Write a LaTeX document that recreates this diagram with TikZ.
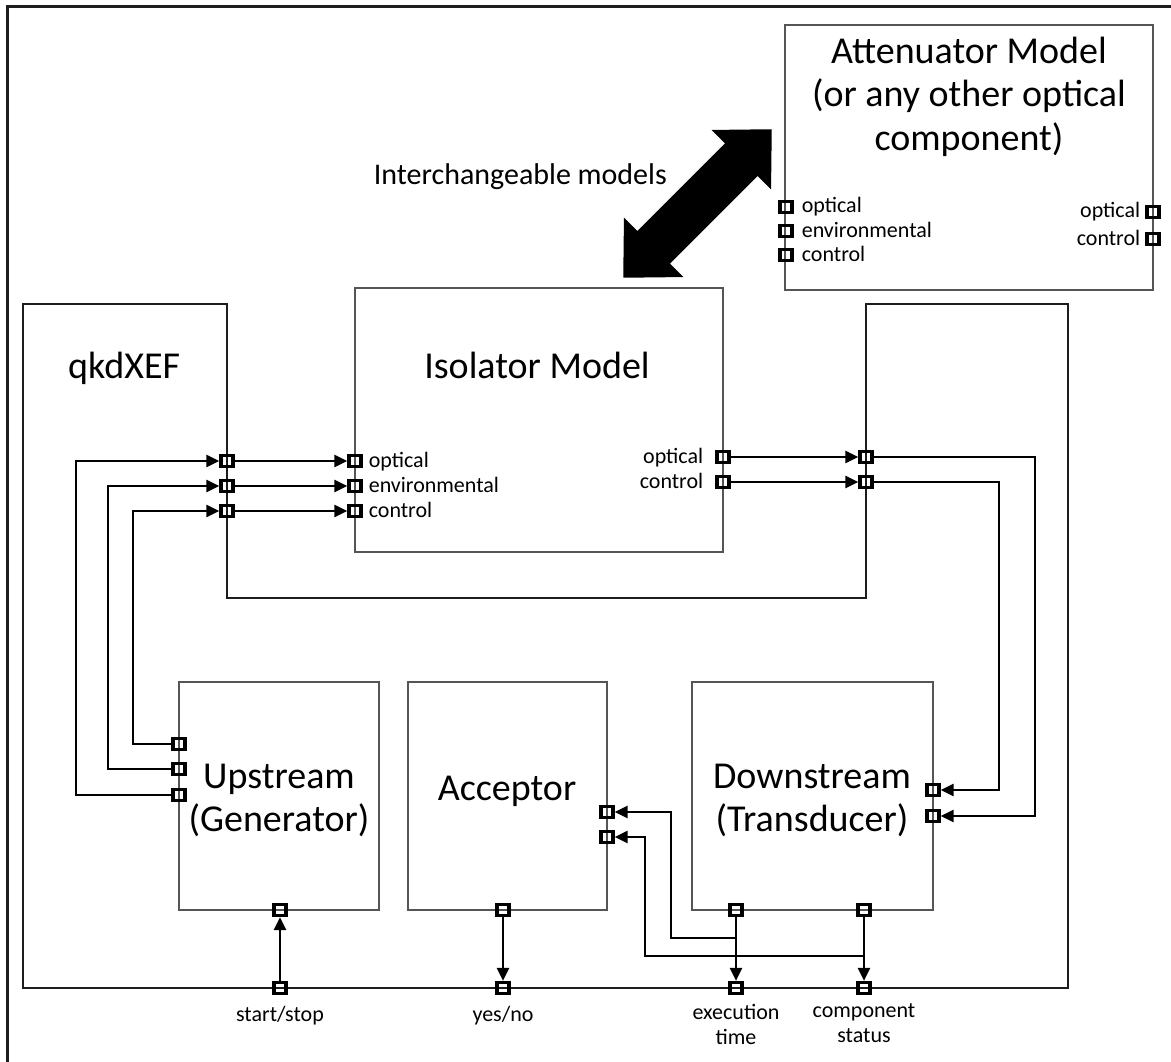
\documentclass[tikz,border=0pt]{standalone}
\usepackage{fontspec}
\setmainfont{Carlito}
\usetikzlibrary{arrows.meta,positioning,calc}
\definecolor{boxgray}{RGB}{85,85,85}
\definecolor{inkblack}{RGB}{30,28,29}

\tikzset{
  model/.style={draw=boxgray, line width=1.5pt},
  xefline/.style={draw=inkblack, line width=2.2pt},
  port/.style={draw=black, line width=3.2pt, inner sep=0pt, minimum width=12pt, minimum height=11pt},
  wire/.style={line width=2.4pt, black},
  conn/.style={wire, -{Triangle[length=13pt,width=12pt]}},
  heading/.style={font=\fontsize{38}{43.5}\selectfont, inner sep=0pt, align=center},
  lbl/.style={font=\fontsize{22}{25}\selectfont, inner sep=0pt, text height=12pt, text depth=0pt},
  sublbl/.style={font=\fontsize{22}{25}\selectfont, inner sep=0pt, align=center},
}

\begin{document}
\begin{tikzpicture}[x=1pt, y=-1pt]
  \useasboundingbox (0,0) rectangle (1171,1062);
  % page frame, top and left edges
  \draw[line width=3pt, inkblack] (7,1062) -- (7,6.5) -- (1171,6.5);

  % qkdXEF outline with the slot for the plugged-in model
  \draw[xefline] (23,304) -- (227,304) -- (227,598) -- (866,598) -- (866,304)
    -- (1068,304) -- (1068,988) -- (23,988) -- cycle;
  \node[heading, anchor=base west] (xef) at (68,378) {qkdXEF};

  % model boxes
  \draw[model] (355,288) rectangle (723,552);
  \node[heading, anchor=base] (isot) at (537,378) {Isolator Model};
  \draw[model] (785,25) rectangle (1153,290);
  \node[heading, anchor=north] (attt) at (969,36.5) {Attenuator Model\\(or any other optical\\component)};
  \draw[model] (179,682) rectangle (379,910);
  \node[heading, anchor=north] (upt) at (279,763.5) {Upstream\\(Generator)};
  \draw[model] (408,682) rectangle (607,910);
  \node[heading, anchor=base] (acct) at (507,800) {Acceptor};
  \draw[model] (692,682) rectangle (933,910);
  \node[heading, anchor=north] (dnt) at (812,763.5) {Downstream\\(Transducer)};

  % swap arrow between the two models
  \begin{scope}[shift={(697.5,203.5)}, rotate=45]
    \fill[black] (105,0) -- (62,42) -- (62,23) -- (-62,23) -- (-62,42) -- (-105,0)
      -- (-62,-42) -- (-62,-23) -- (62,-23) -- (62,-42) -- cycle;
  \end{scope}
  \node[font=\fontsize{30}{36}\selectfont, inner sep=0pt, anchor=base east] (swap) at (667,185) {Interchangeable models};

  % ports
  \foreach \y [count=\i] in {461,486,511} {
    \node[port] (q\i) at (227,\y) {};
    \node[port] (i\i) at (355,\y) {};
  }
  \foreach \y [count=\i] in {457,482} {
    \node[port] (o\i) at (723,\y) {};
    \node[port] (r\i) at (866,\y) {};
  }
  \foreach \y [count=\i] in {744,769,795} \node[port] (u\i) at (179,\y) {};
  \foreach \y [count=\i] in {812,837} \node[port] (a\i) at (607,\y) {};
  \foreach \y [count=\i] in {790,816} \node[port] (d\i) at (933,\y) {};
  \foreach \y [count=\i] in {207,231,255} \node[port] (t\i) at (786,\y) {};
  \foreach \y [count=\i] in {212,239} \node[port] (tr\i) at (1153,\y) {};
  \node[port] (ub) at (280,910) {};
  \node[port] (ab) at (503,910) {};
  \node[port] (db1) at (736,910) {};
  \node[port] (db2) at (864,910) {};
  \node[port] (ss) at (280,988) {};
  \node[port] (yn) at (503,988) {};
  \node[port] (et) at (736,988) {};
  \node[port] (cs) at (864,988) {};

  % port labels
  \foreach \n/\t in {1/optical,2/environmental,3/control} {
    \node[lbl, right=6pt of i\n] (il\n) {\t};
    \node[lbl, right=8pt of t\n] (tl\n) {\t};
  }
  \foreach \n/\t in {1/optical,2/control} {
    \node[lbl, left=12pt of o\n] (ol\n) {\t};
    \node[lbl, left=5pt of tr\n] (trl\n) {\t};
  }
  \node[sublbl, below=11pt of ss] (ssl) {start/stop};
  \node[sublbl, below=11pt of yn] (ynl) {yes/no};
  \node[sublbl, below=9pt of et] (etl) {execution\\time};
  \node[sublbl, below=8pt of cs] (csl) {component\\status};

  % upstream feeds the isolator inputs
  \coordinate (lx1) at (76,0);
  \coordinate (lx2) at (108,0);
  \coordinate (lx3) at (133,0);
  \draw[conn] (u3) -- (u3 -| lx1) |- (q1);
  \draw[conn] (u2) -- (u2 -| lx2) |- (q2);
  \draw[conn] (u1) -- (u1 -| lx3) |- (q3);
  \foreach \i in {1,2,3} \draw[conn] (q\i) -- (i\i);

  % isolator outputs go on to downstream
  \foreach \i in {1,2} \draw[conn] (o\i) -- (r\i);
  \coordinate (rx1) at (1035,0);
  \coordinate (rx2) at (999,0);
  \draw[conn] (r1) -- (r1 -| rx1) |- (d2);
  \draw[conn] (r2) -- (r2 -| rx2) |- (d1);

  % control and status lines along the bottom
  \draw[conn] (ss) -- (ub);
  \draw[conn] (ab) -- (yn);
  \draw[conn] (db1) -- (et);
  \draw[conn] (db2) -- (cs);
  \coordinate (bx1) at (671,938);
  \coordinate (bx2) at (645,956);
  \draw[conn] (db1 |- bx1) -- (bx1) |- (a1);
  \draw[conn] (db2 |- bx2) -- (bx2) |- (a2);
\end{tikzpicture}
\end{document}
